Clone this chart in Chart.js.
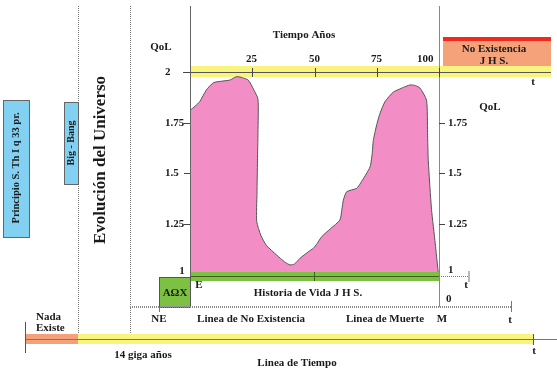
<!DOCTYPE html>
<html>
<head>
<meta charset="utf-8">
<script src="https://cdn.jsdelivr.net/npm/chart.js@4/dist/chart.umd.min.js"></script>
<style>
  html, body { margin: 0; padding: 0; background: #ffffff; }
  #wrap { width: 557px; height: 379px; position: relative; }
</style>
</head>
<body>
<div id="wrap"><canvas id="c"></canvas></div>
<script>
// ---- data ----
const years = [0, 2, 4, 6.5, 9.4, 13, 16, 18.7, 21, 23.4, 25.5, 27.3, 27.3, 27.1, 26.9, 26.8, 28.5, 30.8, 34.8, 38, 40.2, 42, 44.2, 47.5, 49.5, 51, 52.9, 56.5, 60.2, 61, 61.6, 62.9, 66.9, 68.5, 72.3, 73.2, 73.6, 75, 76.3, 78.3, 81.6, 85, 88.4, 90.5, 92.4, 95, 95.4, 95.7, 97, 98.5, 99.7, 100];
const qol   = [1.81, 1.83, 1.855, 1.91, 1.947, 1.955, 1.96, 1.977, 1.972, 1.96, 1.915, 1.865, 1.7, 1.56, 1.4, 1.26, 1.19, 1.14, 1.094, 1.06, 1.045, 1.05, 1.078, 1.11, 1.127, 1.15, 1.185, 1.225, 1.267, 1.32, 1.366, 1.407, 1.424, 1.45, 1.53, 1.6, 1.66, 1.74, 1.795, 1.853, 1.9, 1.92, 1.936, 1.933, 1.92, 1.86, 1.7, 1.56, 1.32, 1.15, 1.01, 1.0];
const yearTicks = [25, 50, 75, 100];
const qolTicksLeft = [2, 1.75, 1.5, 1.25];
const qolTicksRight = [1.75, 1.5, 1.25];
const xTitle = "Tiempo Años";
const yTitle = "QoL";

const points = years.map((x, i) => ({ x: x, y: qol[i] }));

const F = 'bold 11px "Liberation Serif", "DejaVu Serif", serif';

const deco = {
  id: 'deco',
  beforeDatasetsDraw(chart) {
    const ctx = chart.ctx;
    const xs = chart.scales.x, ys = chart.scales.y;
    const X0 = xs.getPixelForValue(0);
    const Y2 = ys.getPixelForValue(2);
    ctx.save();
    ctx.fillStyle = '#F9F47E';
    ctx.fillRect(X0, Y2 - 6, 551 - X0, 11);
    ctx.restore();
  },
  afterDatasetsDraw(chart) {
    const ctx = chart.ctx;
    const xs = chart.scales.x, ys = chart.scales.y;
    const X0 = xs.getPixelForValue(0), X100 = xs.getPixelForValue(100);
    const Y2 = ys.getPixelForValue(2), Y1 = ys.getPixelForValue(1);
    const line = (x1, y1, x2, y2, col, w, dash) => {
      ctx.save();
      ctx.strokeStyle = col; ctx.lineWidth = w || 1;
      ctx.setLineDash(dash || []);
      ctx.beginPath(); ctx.moveTo(x1, y1); ctx.lineTo(x2, y2); ctx.stroke();
      ctx.restore();
    };
    const text = (s, x, y, align, font, col) => {
      ctx.save();
      ctx.font = font || F; ctx.fillStyle = col || '#1a1a1a';
      ctx.textAlign = align || 'center'; ctx.textBaseline = 'middle';
      ctx.fillText(s, x, y);
      ctx.restore();
    };
    const vtext = (s, x, y, font) => {
      ctx.save();
      ctx.translate(x, y); ctx.rotate(-Math.PI / 2);
      ctx.font = font || F; ctx.fillStyle = '#1a1a1a';
      ctx.textAlign = 'center'; ctx.textBaseline = 'middle';
      ctx.fillText(s, 0, 0);
      ctx.restore();
    };

    // green band at QoL = 1
    ctx.save();
    ctx.fillStyle = '#7DC142';
    ctx.fillRect(X0, Y1 - 2, X100 - X0, 9);
    ctx.restore();
    line(X0, Y1 + 2.5, X100, Y1 + 2.5, '#3f5f20', 1);
    line(X100, Y1 + 2.5, 469, Y1 + 2.5, '#777', 1, [1, 1]);
    line(469, Y1 - 3, 469, Y1 + 8, '#777', 1);
    line(xs.getPixelForValue(50), Y1 - 2, xs.getPixelForValue(50), Y1 + 7, '#3f5f20', 1);

    // vertical dotted lines
    line(78.5, 6, 78.5, 343, '#777', 1, [1, 1]);
    line(130.5, 6, 130.5, 343, '#777', 1, [1, 1]);
    // chart vertical axes
    line(X0 + 0.5, 6, X0 + 0.5, Y1 + 7, '#666', 1);
    line(X100 + 0.5, 6, X100 + 0.5, 307, '#888', 1);

    // top axis line + ticks
    line(183, Y2 + 0.5, 551, Y2 + 0.5, '#555', 1);
    yearTicks.forEach(v => {
      const px = Math.round(xs.getPixelForValue(v)) + 0.5;
      line(px, Y2 - 4, px, Y2 + 5, '#444', 1);
      if (v === 100) text(String(v), px - 6, Y2 - 13, 'right');
      else text(String(v), px - 1, Y2 - 13);
    });
    text(xTitle, 304, 35);
    text('t', 533, 82);

    // left y ticks
    qolTicksLeft.forEach(v => {
      const py = Math.round(ys.getPixelForValue(v)) + 0.5;
      line(184, py, X0, py, '#444', 1);
      text(String(v), 165, py, 'left');
    });
    text('1', 182, Y1 - 3);
    text(yTitle, 161, 47);
    // right y ticks
    qolTicksRight.forEach(v => {
      const py = Math.round(ys.getPixelForValue(v)) + 0.5;
      line(X100, py, X100 + 6, py, '#444', 1);
      text(String(v), 448, py, 'left');
    });
    text('1', 448, Y1 - 4, 'left');
    text(yTitle, 490, 107);
    text('t', 466, Y1 + 11);
    text('0', 446, 299, 'left');

    // No Existencia box
    ctx.save();
    ctx.fillStyle = '#F5A27A';
    ctx.fillRect(443, 38, 108, 28);
    ctx.fillStyle = '#F22A1E';
    ctx.fillRect(443, 37, 108, 4);
    ctx.restore();
    text('No Existencia', 494, 49);
    text('J H S.', 494, 61);

    // AΩX box
    ctx.save();
    ctx.fillStyle = '#7DC142';
    ctx.fillRect(159, 277, X0 - 159, 30);
    ctx.strokeStyle = '#555'; ctx.lineWidth = 1;
    ctx.strokeRect(159.5, 277.5, X0 - 159, 30);
    ctx.restore();
    text('AΩX', 175, 293);
    text('E', 199, 285);
    text('Historia de Vida J H S.', 308, 293);

    // Linea de No Existencia
    line(130, 307, 511, 307, '#888', 2, [1, 1]);
    line(159.5, 307, 159.5, 312, '#777', 1);
    line(511.5, 301, 511.5, 312, '#777', 1);
    text('NE', 159, 319);
    text('Linea de No Existencia', 251, 319);
    text('Linea de Muerte', 385, 319);
    text('M', 442, 319);
    text('t', 510, 320);

    // Linea de Tiempo
    ctx.save();
    ctx.fillStyle = '#F4A07A';
    ctx.fillRect(25, 334, 53, 10);
    ctx.fillStyle = '#F9F47E';
    ctx.fillRect(78, 334, 455, 10);
    ctx.restore();
    line(25, 339.5, 557, 339.5, '#777', 1);
    line(25.5, 322, 25.5, 353, '#555', 1);
    line(533.5, 334, 533.5, 345, '#555', 1);
    text('Nada', 36, 317, 'left');
    text('Existe', 36, 328, 'left');
    text('14 giga años', 143, 355);
    text('Linea de Tiempo', 297, 363);
    text('t', 534, 351);

    // blue boxes + vertical texts
    ctx.save();
    ctx.fillStyle = '#83D1F2';
    ctx.strokeStyle = '#666'; ctx.lineWidth = 1;
    ctx.fillRect(3, 100, 26, 137); ctx.strokeRect(3.5, 100.5, 26, 137);
    ctx.fillRect(64, 102, 14, 82); ctx.strokeRect(64.5, 102.5, 14, 82);
    ctx.restore();
    vtext('Principio S. Th I q 33 pr.', 16.5, 168, 'bold 10.5px "Liberation Serif", serif');
    vtext('Big - Bang', 71.5, 143, 'bold 10px "Liberation Serif", serif');
    vtext('Evolución del Universo', 101, 160, 'bold 17px "Liberation Serif", serif');
  }
};

new Chart(document.getElementById('c'), {
  type: 'line',
  data: {
    datasets: [{
      data: points,
      parsing: false,
      fill: { value: 1 },
      backgroundColor: '#F38DC6',
      borderColor: '#555555',
      borderWidth: 1,
      pointRadius: 0,
      tension: 0.2
    }]
  },
  options: {
    responsive: true,
    maintainAspectRatio: false,
    animation: false,
    layout: { padding: { left: 190, right: 118, top: 72, bottom: 105 } },
    plugins: { legend: { display: false }, tooltip: { enabled: false }, title: { display: false } },
    scales: {
      x: { type: 'linear', min: 0, max: 100, display: false },
      y: { type: 'linear', min: 1, max: 2, display: false }
    }
  },
  plugins: [deco]
});
</script>
</body>
</html>
